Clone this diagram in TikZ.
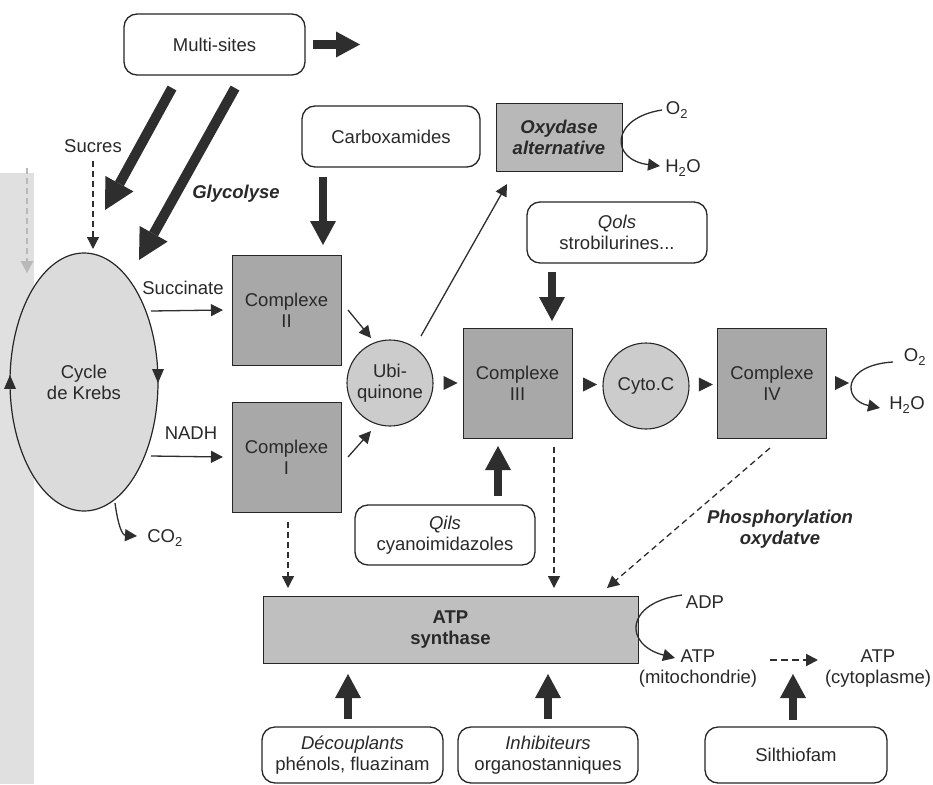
\documentclass[tikz,border=0pt]{standalone}
\usepackage{fontspec}
\setmainfont{Liberation Sans}
\usetikzlibrary{arrows.meta,shapes.geometric,calc}
\definecolor{edge}{gray}{0.15}
\definecolor{thk}{gray}{0.18}
\definecolor{txt}{gray}{0.16}
\definecolor{cpx}{gray}{0.66}
\definecolor{oxc}{gray}{0.72}
\definecolor{circ}{gray}{0.80}
\definecolor{ellc}{gray}{0.86}
\definecolor{atpc}{gray}{0.75}
\definecolor{band}{gray}{0.88}
\newcommand\dgfs{\fontsize{18.5}{21}\selectfont}
\begin{document}
\begin{tikzpicture}[x=1pt,y=-1pt,font=\dgfs,text=txt,
  every node/.style={inner sep=0pt,outer sep=0pt},
  rbox/.style={draw=edge,line width=1.3pt,rounded corners=13pt,align=center,fill=white},
  cbox/.style={draw=edge,line width=1pt,fill=cpx,align=center,minimum width=109pt,minimum height=110pt},
  rcirc/.style={circle,draw=edge,line width=1.1pt,fill=circ,align=center,minimum size=86pt},
  lbl/.style={align=center},
  bilbl/.style={align=center,font=\dgfs\bfseries\itshape},
  tarr/.style={draw=thk,line width=8.5pt,-{Triangle[length=24pt,width=26pt,line width=0pt]}},
  tarrd/.style={draw=thk,line width=10pt,-{Triangle[length=30pt,width=32pt,line width=0pt]}},
  arr/.style={draw=thk,line width=1.3pt,-{Triangle[length=12pt,width=12pt]}},
  darr/.style={arr,dash pattern=on 6pt off 4pt},
  tri/.style={isosceles triangle,isosceles triangle stretches=true,fill=thk,minimum width=14pt,minimum height=14pt}
]
\useasboundingbox (0,0) rectangle (933,784);
\fill[white] (0,0) rectangle (933,784);
\fill[band] (0,173) rectangle (34,784);

% boxes
\node[rbox,minimum width=181pt,minimum height=61pt] (multi) at (214.5,44.5) {Multi-sites};
\node[rbox,minimum width=178pt,minimum height=61pt] (carbox) at (391,136.5) {Carboxamides};
\node[draw=edge,line width=1pt,fill=oxc,minimum width=126pt,minimum height=68pt,align=center,font=\dgfs\bfseries\itshape] (oxy) at (559,137) {Oxydase\\alternative};
\node[rbox,minimum width=180pt,minimum height=61pt] (qols) at (617,232.5) {{\itshape Qols}\\strobilurines...};
\node[ellipse,draw=edge,line width=1.2pt,fill=ellc,minimum width=148pt,minimum height=258pt,align=center] (krebs) at (84,382) {Cycle\\de Krebs};
\node[cbox] (c2) at (286.5,310) {Complexe\\II};
\node[cbox] (c1) at (286.5,457) {Complexe\\I};
\node[rcirc] (ubi) at (390,383) {Ubi-\\quinone};
\node[cbox] (c3) at (517.5,383) {Complexe\\III};
\node[rcirc] (cyto) at (646,386) {Cyto.C};
\node[cbox] (c4) at (772,383) {Complexe\\IV};
\node[rbox,minimum width=180pt,minimum height=60pt] (qils) at (445,535) {{\itshape Qils}\\cyanoimidazoles};
\node[draw=edge,line width=1pt,fill=atpc,minimum width=375pt,minimum height=67pt,align=center,font=\dgfs\bfseries] (atp) at (450.5,629.5) {ATP\\synthase};
\node[rbox,minimum width=181pt,minimum height=56pt] (decoup) at (352.5,755) {{\itshape Découplants}\\phénols, fluazinam};
\node[rbox,minimum width=180pt,minimum height=56pt] (inhib) at (548,755) {{\itshape Inhibiteurs}\\organostanniques};
\node[rbox,minimum width=182pt,minimum height=56pt] (silth) at (796,755) {Silthiofam};

% labels
\node[lbl] (sucres) at (93,146) {Sucres};
\node[bilbl] (glyco) at (236,194) {Glycolyse};
\node[lbl] (succ) at (183,288) {Succinate};
\node[lbl] (nadh) at (191,433) {NADH};
\node[lbl] (co2) at (165,538) {CO\textsubscript{2}};
\node[lbl] (o2a) at (677,110) {O\textsubscript{2}};
\node[lbl] (h2oa) at (683,168) {H\textsubscript{2}O};
\node[lbl] (o2b) at (915,357) {O\textsubscript{2}};
\node[lbl] (h2ob) at (907,405) {H\textsubscript{2}O};
\node[bilbl] (phos) at (780,529) {Phosphorylation\\oxydatve};
\node[lbl] (adp) at (705,602) {ADP};
\node[lbl] (atpm) at (698,669) {ATP\\(mitochondrie)};
\node[lbl] (atpcy) at (878,669) {ATP\\(cytoplasme)};

% free coordinates
\coordinate (d1s) at (172,88);  \coordinate (d1e) at (105,210);
\coordinate (d2s) at (235,88);  \coordinate (d2e) at (139,260);

% thick arrows
\draw[tarr] ([xshift=8pt]multi.east) -- ++(47,0);
\draw[tarrd] (d1s) -- (d1e);
\draw[tarrd] (d2s) -- (d2e);
\draw[tarr] (323,177) -- (323,245);
\draw[tarr] (552,272) -- (552,321);
\draw[tarr] (498,496) -- (498,446);
\draw[tarr] (348,719) -- (348,674);
\draw[tarr] (548,719) -- (548,674);
\draw[tarr] (793,720) -- (793,674);

% thin arrows
\draw[darr] ([yshift=-8pt]sucres.south) -- (93,249);
\draw[darr,draw=gray!55,line width=2.5pt,-{Triangle[length=12pt,width=13pt,line width=0pt]}] (27,168) -- (27,273);
\draw[arr] (151,311) -- ([xshift=-9pt]c2.west);
\draw[arr] (151,456) -- ([xshift=-9pt]c1.west);
\draw[arr] (348,310) -- (371,338);
\draw[arr] (348,457) -- (371,431);
\draw[arr] (421,336) -- (507,184);
\draw[darr] (288,522) -- (288,588);
\draw[darr] (554,447) -- (554,588);
\draw[darr] (770,448) -- (607,588);
\draw[arr,line width=2pt,dash pattern=on 7pt off 4pt] (770,660) -- (818,660);

% curved arrows
\draw[arr] (115,503) .. controls (118,525) and (122,535) .. (137,536);
\draw[arr] (662,110) .. controls (610,118) and (610,160) .. (660,166);
\draw[arr] (893,362) .. controls (842,365) and (842,400) .. (880,408);
\draw[arr] (682,595) .. controls (624,603) and (624,645) .. (675,658);

% small triangles
\path (ubi.east) -- (c3.west) node[tri,midway] {};
\path (c3.east) -- (cyto.west) node[tri,midway] {};
\path (cyto.east) -- (c4.west) node[tri,midway] {};
\node[tri] at ([xshift=13pt]c4.east) {};
\node[tri,shape border rotate=-90,minimum width=12pt] at ([yshift=9pt]krebs.east) {};
\node[tri,shape border rotate=90,minimum width=12pt] at ([yshift=-3pt]krebs.west) {};
\end{tikzpicture}
\end{document}
